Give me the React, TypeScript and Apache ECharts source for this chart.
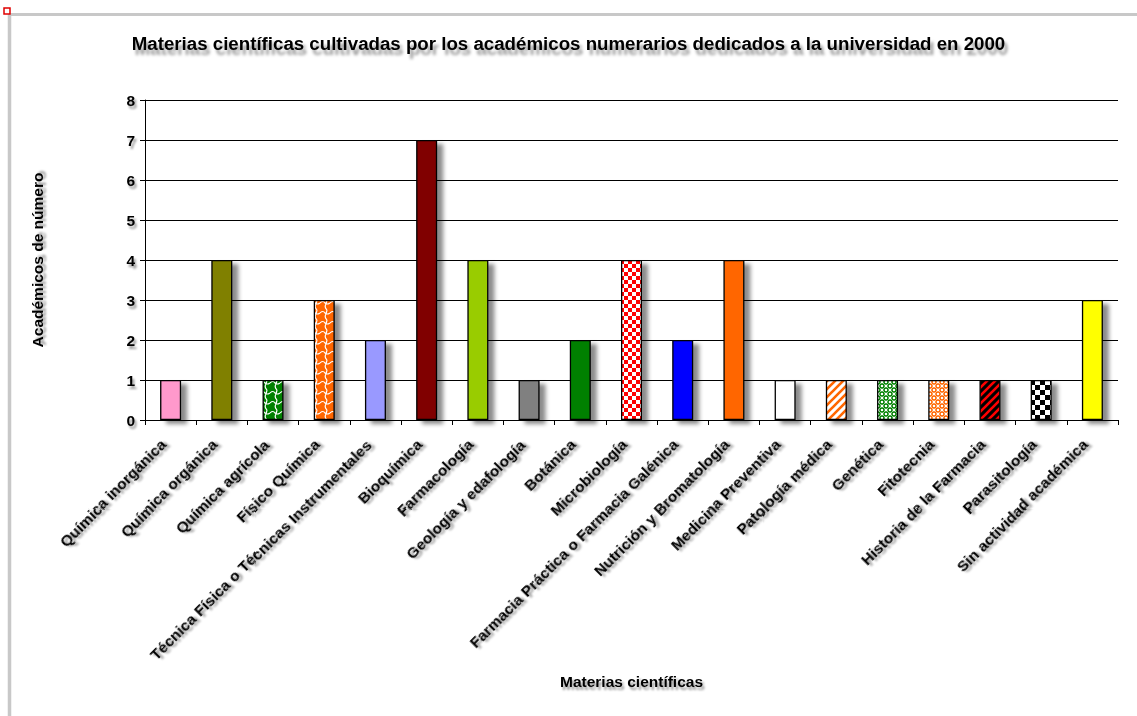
import React, { useEffect, useRef } from 'react';
import * as echarts from 'echarts';

const titleText = 'Materias científicas cultivadas por los académicos numerarios dedicados a la universidad en 2000';
const xAxisName = 'Materias científicas';
const yAxisName = 'Académicos de número';

const categories = [
  'Química inorgánica',
  'Química orgánica',
  'Química agrícola',
  'Físico Química',
  'Técnica Física o Técnicas Instrumentales',
  'Bioquímica',
  'Farmacología',
  'Geología y edafología',
  'Botánica',
  'Microbiología',
  'Farmacia Práctica o Farmacia Galénica',
  'Nutrición y Bromatología',
  'Medicina Preventiva',
  'Patología médica',
  'Genética',
  'Fitotecnia',
  'Historia de la Farmacia',
  'Parasitología',
  'Sin actividad académica',
];

const values = [1, 4, 1, 3, 2, 7, 4, 1, 2, 4, 2, 4, 1, 1, 1, 1, 1, 1, 3];

const yMin = 0;
const yMax = 8;
const yInterval = 1;

// fill style per bar: [kind, foreground, background]
const barFills: [string, string, string][] = [
  ['solid', '#FF99CC', ''],
  ['solid', '#808000', ''],
  ['wave', '#FFFFFF', '#008000'],
  ['wave', '#FFFFFF', '#FF6600'],
  ['solid', '#9999FF', ''],
  ['solid', '#800000', ''],
  ['solid', '#99CC00', ''],
  ['solid', '#808080', ''],
  ['solid', '#008000', ''],
  ['checker', '#FF0000', '#FFFFFF'],
  ['solid', '#0000FF', ''],
  ['solid', '#FF6600', ''],
  ['solid', '#FFFFFF', ''],
  ['stripes', '#FF6600', '#FFFFFF'],
  ['spheres', '#008000', '#FFFFFF'],
  ['spheres', '#FF6600', '#FFFFFF'],
  ['stripes', '#FF0000', '#000000'],
  ['checker', '#000000', '#FFFFFF'],
  ['solid', '#FFFF00', ''],
];

function makeTile(size: number, draw: (ctx: CanvasRenderingContext2D, s: number) => void) {
  const c = document.createElement('canvas');
  c.width = size;
  c.height = size;
  const ctx = c.getContext('2d') as CanvasRenderingContext2D;
  draw(ctx, size);
  return { image: c, repeat: 'repeat' };
}

function makeFill(kind: string, fg: string, bg: string): any {
  if (kind === 'solid') return fg;
  if (kind === 'checker') {
    const s = fg === '#000000' ? 10 : 8;
    return makeTile(s, (ctx, n) => {
      ctx.fillStyle = bg;
      ctx.fillRect(0, 0, n, n);
      ctx.fillStyle = fg;
      ctx.fillRect(0, 0, n / 2, n / 2);
      ctx.fillRect(n / 2, n / 2, n / 2, n / 2);
    });
  }
  if (kind === 'stripes') {
    return makeTile(8, (ctx, n) => {
      ctx.fillStyle = bg;
      ctx.fillRect(0, 0, n, n);
      ctx.strokeStyle = fg;
      ctx.lineWidth = 2.6;
      ctx.beginPath();
      ctx.moveTo(-n, n); ctx.lineTo(n, -n);
      ctx.moveTo(0, n); ctx.lineTo(n, 0);
      ctx.moveTo(0, 2 * n); ctx.lineTo(2 * n, 0);
      ctx.stroke();
    });
  }
  if (kind === 'wave') {
    return makeTile(10, (ctx, n) => {
      ctx.fillStyle = bg;
      ctx.fillRect(0, 0, n, n);
      ctx.strokeStyle = fg;
      ctx.lineWidth = 1.2;
      ctx.beginPath();
      ctx.moveTo(0, 3);
      ctx.quadraticCurveTo(3, 0, 5, 3);
      ctx.quadraticCurveTo(7, 5, 10, 3);
      ctx.moveTo(6, 4);
      ctx.quadraticCurveTo(4, 7, 7, 10);
      ctx.moveTo(7, 0);
      ctx.lineTo(6, 4);
      ctx.stroke();
    });
  }
  if (kind === 'spheres') {
    return makeTile(8, (ctx, n) => {
      ctx.fillStyle = bg;
      ctx.fillRect(0, 0, n, n);
      ctx.fillStyle = fg;
      ctx.fillRect(0, 0, 4, 4);
      ctx.fillRect(4, 4, 4, 4);
      ctx.fillStyle = bg;
      ctx.beginPath();
      ctx.arc(2, 2, 1.3, 0, Math.PI * 2);
      ctx.arc(6, 6, 1.3, 0, Math.PI * 2);
      ctx.fill();
      ctx.strokeStyle = fg;
      ctx.lineWidth = 0.8;
      ctx.beginPath();
      ctx.arc(6, 2, 1.8, 0, Math.PI * 2);
      ctx.stroke();
      ctx.beginPath();
      ctx.arc(2, 6, 1.8, 0, Math.PI * 2);
      ctx.stroke();
    });
  }
  return fg;
}

const FONT = 'Arial, "Liberation Sans", sans-serif';
const shadowText = {
  textShadowColor: 'rgba(0,0,0,0.4)',
  textShadowBlur: 2,
  textShadowOffsetX: 2,
  textShadowOffsetY: 3,
};

export default function App() {
  const ref = useRef<HTMLDivElement>(null);
  useEffect(() => {
    document.body.style.margin = '0';
    if (!ref.current) return;
    const chart = echarts.init(ref.current, undefined, { renderer: 'svg' });
    const data = values.map((v, i) => ({
      value: v,
      itemStyle: { color: makeFill(barFills[i][0], barFills[i][1], barFills[i][2]) },
    }));
    const option: any = {
      animation: false,
      backgroundColor: '#FFFFFF',
      title: {
        text: titleText,
        left: 'center',
        top: 29,
        textStyle: {
          fontFamily: FONT,
          fontWeight: 'bold',
          fontSize: 18.7,
          color: '#000',
          textShadowColor: 'rgba(0,0,0,0.4)',
          textShadowBlur: 3,
          textShadowOffsetX: 3,
          textShadowOffsetY: 5,
        },
      },
      grid: { left: 145, right: 19, top: 100, bottom: 296, containLabel: false },
      xAxis: {
        type: 'category',
        data: categories,
        axisLine: { show: true, lineStyle: { color: '#000', width: 1 } },
        axisTick: { show: true, length: 5, lineStyle: { color: '#000' } },
        axisLabel: {
          interval: 0,
          rotate: 45,
          margin: 15,
          padding: [0, 10, 0, 0],
          fontFamily: FONT,
          fontWeight: 'bold',
          fontSize: 15.5,
          color: '#000',
          ...shadowText,
        },
        name: xAxisName,
        nameLocation: 'middle',
        nameGap: 253,
        nameTextStyle: {
          fontFamily: FONT,
          fontWeight: 'bold',
          fontSize: 15.5,
          color: '#000',
          ...shadowText,
        },
      },
      yAxis: {
        type: 'value',
        min: yMin,
        max: yMax,
        interval: yInterval,
        axisLine: { show: true, lineStyle: { color: '#000', width: 1 } },
        axisTick: { show: true, length: 5, lineStyle: { color: '#000' } },
        splitLine: {
          show: true,
          lineStyle: { color: '#000', width: 1 },
        },
        axisLabel: {
          margin: 10,
          fontFamily: FONT,
          fontWeight: 'bold',
          fontSize: 15.5,
          color: '#000',
          ...shadowText,
        },
        name: yAxisName,
        nameLocation: 'middle',
        nameRotate: 90,
        nameGap: 100,
        nameTextStyle: {
          fontFamily: FONT,
          fontWeight: 'bold',
          fontSize: 15.5,
          color: '#000',
          ...shadowText,
        },
      },
      series: [
        {
          type: 'bar',
          data,
          barWidth: 21,
          itemStyle: {
            borderColor: '#000',
            borderWidth: 1.3,
            shadowColor: 'rgba(0,0,0,0.45)',
            shadowBlur: 4,
            shadowOffsetX: 6,
            shadowOffsetY: 4,
          },
        },
      ],
      graphic: [
        {
          type: 'line',
          shape: { x1: 9.5, y1: 14.5, x2: 9.5, y2: 716 },
          style: { stroke: '#C8C8C8', lineWidth: 3.5 },
          silent: true,
        },
        {
          type: 'line',
          shape: { x1: 8, y1: 14.5, x2: 1137, y2: 14.5 },
          style: { stroke: '#C8C8C8', lineWidth: 3 },
          silent: true,
        },
        {
          type: 'rect',
          shape: { x: 4, y: 8, width: 6, height: 6 },
          style: { fill: '#FFFFFF', stroke: '#E00000', lineWidth: 1.5 },
          silent: true,
        },
      ],
    };
    chart.setOption(option);
    return () => chart.dispose();
  }, []);
  return <div ref={ref} style={{ width: 1137, height: 716 }} />;
}
